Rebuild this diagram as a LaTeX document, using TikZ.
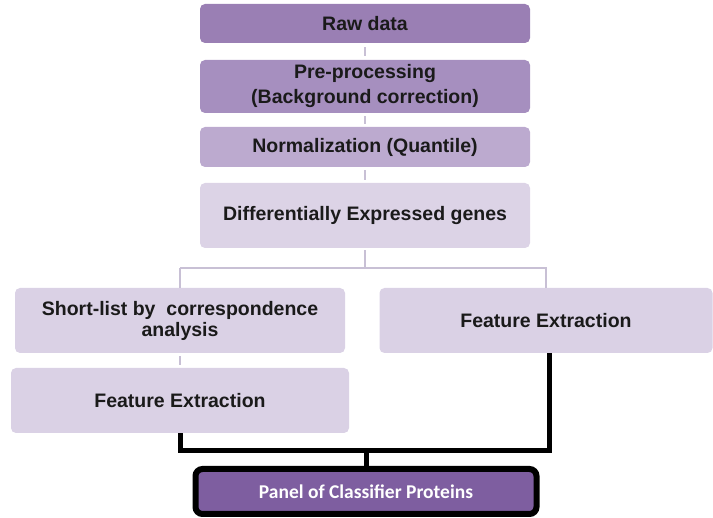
\documentclass[tikz,border=0pt]{standalone}
\usepackage{fontspec}
\setmainfont{Liberation Sans}
\newfontfamily\calfont{Carlito}
\definecolor{cRaw}{HTML}{9A7FB4}
\definecolor{cPre}{HTML}{A68FBF}
\definecolor{cNorm}{HTML}{BCAACF}
\definecolor{cDiff}{HTML}{DCD3E6}
\definecolor{cLight}{HTML}{DAD1E5}
\definecolor{cPanel}{HTML}{7E5EA0}
\definecolor{cLine}{HTML}{C8C0D5}
\definecolor{cText}{HTML}{1A1A1A}
\begin{document}
\begin{tikzpicture}[x=1pt,y=-1pt,
  boxst/.style={rectangle, rounded corners=5pt, inner sep=0pt, align=center,
    text=cText, font=\fontsize{19.5}{21}\selectfont\bfseries, draw=none},
  thinline/.style={draw=cLine, line width=2pt},
  thickline/.style={draw=black, line width=5pt}]
\useasboundingbox (0,0) rectangle (713,518);
\node[boxst, fill=cRaw, minimum width=330pt, minimum height=39pt] (raw) at (365,23.5) {Raw data};
\node[boxst, fill=cPre, minimum width=330pt, minimum height=53pt,
  font=\fontsize{19.5}{25}\selectfont\bfseries] (pre) at (365,86.5) {Pre-processing\\(Background correction)};
\node[boxst, fill=cNorm, minimum width=330pt, minimum height=40pt] (norm) at (365,147) {Normalization (Quantile)};
\node[boxst, fill=cDiff, minimum width=330pt, minimum height=65pt] (diff) at (365,215.5) {Differentially Expressed genes};
\node[boxst, fill=cLight, minimum width=330pt, minimum height=65pt] (short) at (180,320.5) {Short-list by\ \ correspondence\\analysis};
\node[boxst, fill=cLight, minimum width=333pt, minimum height=65pt] (feR) at (546,320.5) {Feature Extraction};
\node[boxst, fill=cLight, minimum width=338pt, minimum height=65pt] (feL) at (180,400.5) {Feature Extraction};
\node[rectangle, rounded corners=7pt, inner sep=0pt, draw=black, line width=6pt, fill=cPanel,
  minimum width=341pt, minimum height=45pt, text=white,
  font=\calfont\fontsize{19.5}{21}\selectfont\bfseries] (panel) at (366,491.5) {Panel of Classifier Proteins};
\coordinate (split) at (365,268);
\coordinate (join) at (366,451);
\draw[thinline, shorten <=4pt, shorten >=4pt] (raw) -- (pre);
\draw[thinline, shorten <=3pt, shorten >=3pt] (pre) -- (norm);
\draw[thinline, shorten <=3pt, shorten >=3pt] (norm) -- (diff);
\draw[thinline, shorten <=2pt] (diff) -- (split);
\draw[thinline] (short.north |- split) -- (split -| feR.north) -- (feR.north);
\draw[thinline] (short.north |- split) -- (short.north);
\draw[thinline, shorten <=3pt, shorten >=3pt] (short) -- (feL);
\draw[thickline] (feL.south) -- (feL.south |- join) -- ([xshift=3pt]feR.south |- join) -- ([xshift=3pt]feR.south);
\draw[thickline] (join) -- (panel.north);
\end{tikzpicture}
\end{document}
